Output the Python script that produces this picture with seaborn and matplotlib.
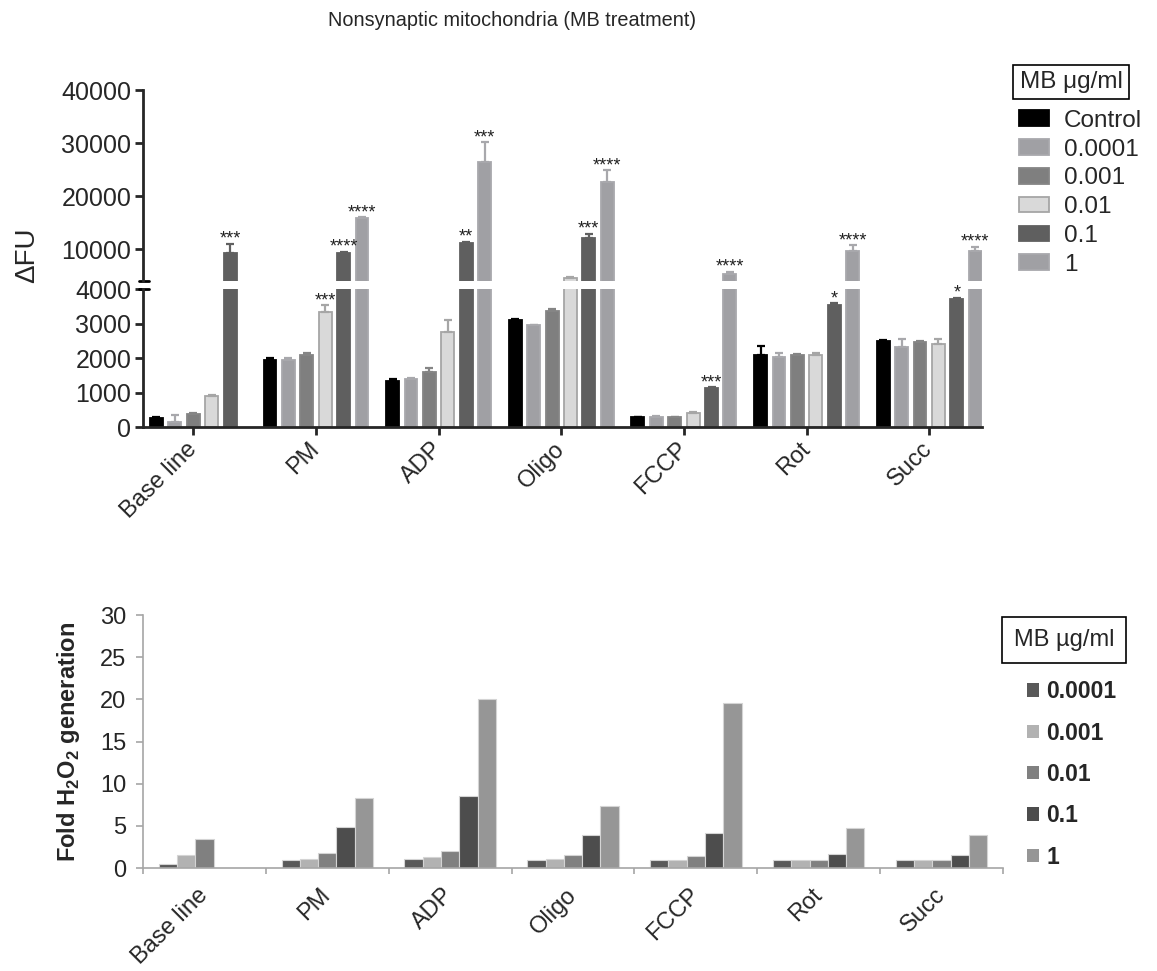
import numpy as np
import pandas as pd
import matplotlib
matplotlib.use("Agg")
import matplotlib.pyplot as plt
from matplotlib.patches import Patch
import seaborn as sns

groups = ["Base line", "PM", "ADP", "Oligo", "FCCP", "Rot", "Succ"]

# upper panel: delta FU, mean and SEM per MB dose
top_doses = ["Control", "0.0001", "0.001", "0.01", "0.1", "1"]
top_control = [260, 1950, 1340, 3100, 284, 2090, 2485]
top_d0001 = [150, 1950, 1385, 2950, 292, 2040, 2330]
top_d001 = [390, 2100, 1600, 3350, 284, 2090, 2477]
top_d01 = [900, 3330, 2740, 4650, 400, 2100, 2420]
top_d1 = [9330, 9330, 11220, 12160, 1120, 3530, 3700]
top_d10 = [np.nan, 15930, 26370, 22720, 5320, 9710, 9710]

top_err_control = [30, 60, 40, 30, 20, 250, 30]
top_err_d0001 = [190, 50, 30, 20, 20, 110, 230]
top_err_d001 = [30, 40, 120, 70, 20, 20, 30]
top_err_d01 = [40, 200, 370, 80, 30, 50, 120]
top_err_d1 = [1650, 150, 150, 750, 30, 60, 40]
top_err_d10 = [np.nan, 100, 3770, 2150, 380, 1070, 760]

stars = {
    ("Base line", "0.1"): "***",
    ("PM", "0.01"): "***", ("PM", "0.1"): "****", ("PM", "1"): "****",
    ("ADP", "0.1"): "**", ("ADP", "1"): "***",
    ("Oligo", "0.1"): "***", ("Oligo", "1"): "****",
    ("FCCP", "0.1"): "***", ("FCCP", "1"): "****",
    ("Rot", "0.1"): "*", ("Rot", "1"): "****",
    ("Succ", "0.1"): "*", ("Succ", "1"): "****",
}

# lower panel: fold H2O2 generation
bot_doses = ["0.0001", "0.001", "0.01", "0.1", "1"]
bot_d0001 = [0.5, 1.0, 1.05, 0.95, 1.0, 0.95, 0.9]
bot_d001 = [1.5, 1.05, 1.25, 1.1, 1.0, 0.95, 0.9]
bot_d01 = [3.45, 1.8, 2.05, 1.55, 1.4, 0.95, 0.9]
bot_d1 = [np.nan, 4.85, 8.5, 3.95, 4.1, 1.65, 1.5]
bot_d10 = [np.nan, 8.3, 20.05, 7.4, 19.55, 4.75, 3.87]

top_colors = ["#000000", "#a0a0a4", "#7f7f7f", "#d9d9d9", "#5f5f5f", "#a0a0a4"]
top_edges = ["#000000", "#a8a8ac", "#858585", "#a6a6a6", "#606060", "#a8a8ac"]
bot_colors = ["#595959", "#b2b2b2", "#808080", "#4d4d4d", "#969696"]

top_df = pd.DataFrame({
    "group": groups * len(top_doses),
    "dose": np.repeat(top_doses, len(groups)),
    "value": np.concatenate([top_control, top_d0001, top_d001, top_d01, top_d1, top_d10]),
    "err": np.concatenate([top_err_control, top_err_d0001, top_err_d001,
                           top_err_d01, top_err_d1, top_err_d10]),
}).dropna(subset=["value"])

bot_df = pd.DataFrame({
    "group": groups * len(bot_doses),
    "dose": np.repeat(bot_doses, len(groups)),
    "value": np.concatenate([bot_d0001, bot_d001, bot_d01, bot_d1, bot_d10]),
}).dropna(subset=["value"])

sns.set_style("ticks")
plt.rcParams["font.family"] = ["Liberation Sans", "DejaVu Sans"]
plt.rcParams["mathtext.fontset"] = "custom"
plt.rcParams["mathtext.rm"] = "Liberation Sans"
plt.rcParams["mathtext.bf"] = "Liberation Sans:bold"

W, H = 1157, 971
BREAK = 4000
fig = plt.figure(figsize=(W / 100, H / 100), dpi=100)


def px_box(x0, y0, x1, y1):
    return [x0 / W, 1 - y1 / H, (x1 - x0) / W, (y1 - y0) / H]


ax_hi = fig.add_axes(px_box(143, 90, 982, 281))
ax_lo = fig.add_axes(px_box(143, 289, 982, 427))
ax_bot = fig.add_axes(px_box(143, 615, 1003, 868))

err_map = {(r.group, r.dose): r.err for r in top_df.itertuples()}
val_map = {(r.group, r.dose): r.value for r in top_df.itertuples()}
centers = {}

for ax in (ax_hi, ax_lo):
    sns.barplot(data=top_df, x="group", y="value", hue="dose", order=groups,
                hue_order=top_doses, palette=top_colors, width=0.9, gap=0.3,
                errorbar=None, saturation=1, legend=False, ax=ax)
    bar_conts = list(ax.containers)
    step = bar_conts[1].patches[0].get_x() - bar_conts[0].patches[0].get_x()
    for i, cont in enumerate(bar_conts):
        dose = top_doses[i]
        xs, ys, es = [], [], []
        for p in cont.patches:
            p.set_edgecolor(top_edges[i])
            p.set_linewidth(1.3)
            xc = p.get_x() + p.get_width() / 2
            g = groups[int(round(xc))]
            # Base line has only five bars: GraphPad centres them
            if g == "Base line":
                p.set_x(p.get_x() + step / 2)
                xc += step / 2
            centers[(g, dose)] = xc
            # each error bar goes on the segment that holds the bar top
            if (p.get_height() >= BREAK) == (ax is ax_hi):
                xs.append(xc)
                ys.append(p.get_height())
                es.append(err_map[(g, dose)])
        if xs:
            ax.errorbar(xs, ys, yerr=[np.zeros(len(es)), es], fmt="none",
                        ecolor=top_edges[i], elinewidth=1.6, capsize=2.8, capthick=1.6)
    ax.set_xlim(-0.41, 6.43)
    ax.set_xlabel("")
    ax.set_ylabel("")
    for s in ("top", "right"):
        ax.spines[s].set_visible(False)
    for s in ("left", "bottom"):
        ax.spines[s].set_linewidth(2)
    ax.tick_params(axis="both", width=2, length=5.5, labelsize=18, pad=3)

ax_hi.set_ylim(BREAK, 40000)
ax_hi.set_yticks([10000, 20000, 30000, 40000])
ax_hi.spines["bottom"].set_visible(False)
ax_hi.tick_params(axis="x", bottom=False, labelbottom=False)
ax_lo.set_ylim(0, BREAK)
ax_lo.set_yticks([0, 1000, 2000, 3000, 4000])
ax_lo.set_xticks(range(len(groups)))
ax_lo.set_xticklabels(groups, rotation=45, ha="right", va="center",
                      rotation_mode="anchor")
ax_lo.tick_params(axis="x", pad=8, labelsize=17)

# axis break marks
ax_hi.plot([-0.0048, 0.007], [0, 0], transform=ax_hi.transAxes, color="black",
           lw=2, clip_on=False)
ax_lo.plot([-0.0048, 0.007], [1, 1], transform=ax_lo.transAxes, color="black",
           lw=2, clip_on=False)

for (g, dose), txt in stars.items():
    top = val_map[(g, dose)] + err_map[(g, dose)]
    ax = ax_hi if val_map[(g, dose)] >= BREAK else ax_lo
    ax.annotate(txt, (centers[(g, dose)], top), xytext=(0, 0), textcoords="offset points",
                ha="center", va="baseline", fontsize=13, color="#222222")

fig.text(512 / W, 1 - 20 / H, "Nonsynaptic mitochondria (MB treatment)",
         ha="center", va="center", fontsize=14.3)
fig.text(27 / W, 1 - 255 / H, "\u0394FU", rotation=90, ha="center", va="center",
         fontsize=20)

top_handles = [Patch(facecolor=c, edgecolor=e, linewidth=1.3)
               for c, e in zip(top_colors, top_edges)]
fig.legend(top_handles, top_doses, loc="upper left", bbox_to_anchor=(1009 / W, 1 - 100 / H),
           frameon=False, fontsize=17.5, handlelength=1.25, handleheight=0.62,
           labelspacing=0.28, handletextpad=0.6, borderaxespad=0)
fig.text(1071 / W, 1 - 82 / H, "MB \u03bcg/ml", ha="center", va="center", fontsize=17.5,
         bbox=dict(boxstyle="square,pad=0.25", fc="white", ec="black", lw=1.2))

# lower panel
sns.barplot(data=bot_df, x="group", y="value", hue="dose", order=groups,
            hue_order=bot_doses, palette=bot_colors, width=0.745, gap=0,
            errorbar=None, saturation=1, legend=False, edgecolor="#d4d4d4",
            linewidth=0.8, ax=ax_bot)
ax_bot.set_xlim(-0.5, 6.5)
ax_bot.set_ylim(0, 30)
ax_bot.set_yticks(range(0, 31, 5))
ax_bot.set_xticks(np.arange(-0.5, 7, 1), minor=True)
ax_bot.set_xticks(range(len(groups)))
ax_bot.set_xticklabels(groups, rotation=45, ha="right", va="center",
                       rotation_mode="anchor")
ax_bot.tick_params(axis="x", which="major", length=0, labelsize=17, pad=17)
ax_bot.tick_params(axis="x", which="minor", length=4, width=1.2, color="#a6a6a6")
ax_bot.tick_params(axis="y", length=5, width=1.2, color="#a6a6a6", labelsize=17, pad=7)
for s in ("top", "right"):
    ax_bot.spines[s].set_visible(False)
for s in ("left", "bottom"):
    ax_bot.spines[s].set_color("#a6a6a6")
    ax_bot.spines[s].set_linewidth(1.2)
ax_bot.set_xlabel("")
ax_bot.set_ylabel(r"Fold H$_\mathbf{2}$O$_\mathbf{2}$ generation", fontsize=17,
                  fontweight="bold")
ax_bot.yaxis.set_label_coords(-0.071, 0.5)

bot_handles = [Patch(facecolor=c, edgecolor="none") for c in bot_colors]
fig.legend(bot_handles, bot_doses, loc="upper left", bbox_to_anchor=(1018 / W, 1 - 671 / H),
           frameon=False, prop={"size": 16.5, "weight": "bold"}, handlelength=0.53,
           handleheight=0.53, labelspacing=0.8, handletextpad=0.3, borderaxespad=0)
fig.text(1064 / W, 1 - 640 / H, "MB \u00b5g/ml", ha="center", va="center", fontsize=17,
         bbox=dict(boxstyle="square,pad=0.5", fc="white", ec="black", lw=1.2))

fig.savefig("out.png", dpi=100)
